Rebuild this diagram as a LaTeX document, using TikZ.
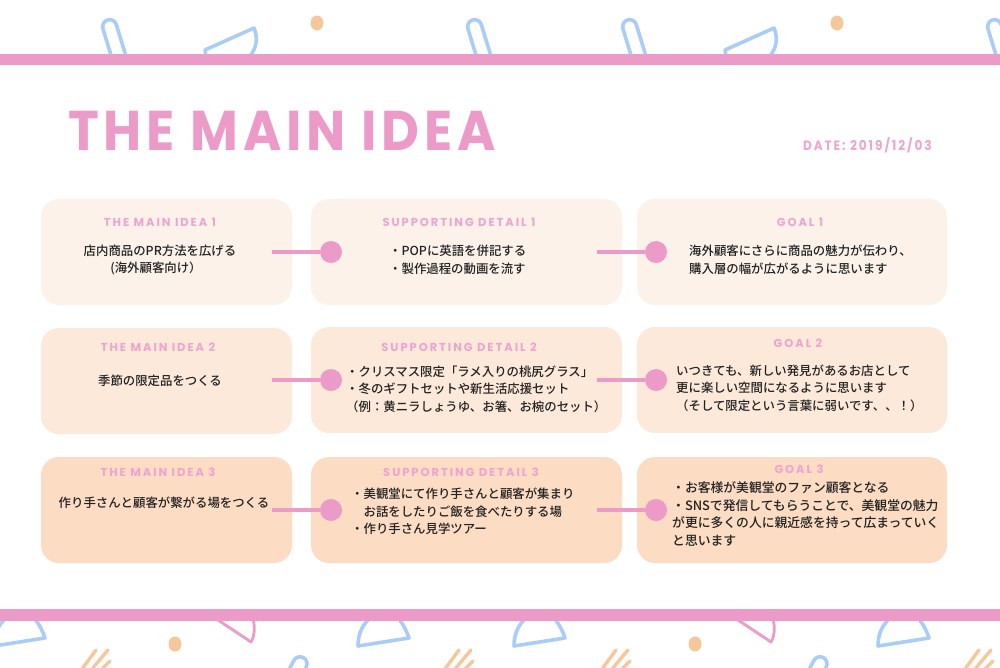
\documentclass[tikz,border=0pt]{standalone}
\usepackage{fontspec}
\setmainfont{Noto Sans CJK JP Medium}
\newfontfamily\titlefont{Poppins}[LetterSpace=8.5,FakeStretch=0.93]
\newfontfamily\headfont{Poppins}[LetterSpace=17]
\newfontfamily\datefont{Poppins}[LetterSpace=14,FakeStretch=0.9]
\definecolor{barpink}{HTML}{EC9BC9}
\definecolor{headpink}{HTML}{ECA5D0}
\definecolor{skyline}{HTML}{A9CDF7}
\definecolor{sandline}{HTML}{F6C79B}
\definecolor{cardone}{HTML}{FDF2E9}
\definecolor{cardtwo}{HTML}{FCE9D9}
\definecolor{cardthree}{HTML}{FCDCC3}
\definecolor{inktext}{HTML}{222222}
\tikzset{
	card/.style={rounded corners=18pt, minimum width=#1, minimum height=106pt, inner sep=0pt},
	head/.style={inner sep=0pt, text=headpink, font=\headfont\bfseries\fontsize{11.5}{14}\selectfont},
	body/.style={inner sep=0pt, text=inktext, font=\fontsize{12.4}{17.6}\selectfont},
	joint/.style={circle, fill=barpink, minimum size=22pt, inner sep=0pt},
	link/.style={draw=barpink, line width=4pt},
	skyshape/.style={draw=skyline, line width=3.6pt, line join=round},
	pill/.style={skyshape, rounded corners=7pt, minimum width=14pt, minimum height=44pt, inner sep=0pt},
	speck/.style={ellipse, fill=sandline, minimum width=13pt, minimum height=15pt, inner sep=0pt},
	stripe/.style={draw=sandline, line width=3.4pt, line cap=round}
}
\usetikzlibrary{shapes.geometric}
\begin{document}
\begin{tikzpicture}[x=1pt, y=-1pt]
	\useasboundingbox (0, 0) rectangle (1000, 667);

	% top pattern
	\foreach \p/\i in {114/1, 479/2, 634/3, 999/4}
		\node[pill, rotate=17] (toppill\i) at (\p, 41) {};
	\foreach \s in {0, 520} {
		\draw[skyshape] (206+\s, 56) -- (205+\s, 50) -- (254+\s, 28) .. controls (258+\s, 38) and (257+\s, 47) .. (250+\s, 56);
	}
	\node[speck] (topdot1) at (317, 23) {};
	\node[speck] (topdot2) at (837, 23) {};

	% bottom pattern
	\foreach \s in {-7, 357, 513, 877} {
		\draw[skyshape] (\s+13, 618) .. controls (\s+4, 626) and (\s+1, 636) .. (\s+1, 646) -- (\s+52, 638) .. controls (\s+50, 632) and (\s+47, 625) .. (\s+41, 618);
	}
	\foreach \s in {0, 520} {
		\draw[draw=barpink, line width=2.8pt, line join=round] (215+\s, 618) -- (251+\s, 642) .. controls (255+\s, 635) and (255+\s, 628) .. (253+\s, 618);
	}
	\node[speck] (botdot1) at (175, 644) {};
	\node[speck] (botdot2) at (695, 644) {};
	\foreach \s in {0, 363, 520, 883} {
		\draw[stripe] (96+\s, 650) -- (82+\s, 669);
		\draw[stripe] (108+\s, 650) -- (92+\s, 669);
		\draw[stripe] (110+\s, 661) -- (102+\s, 669);
	}
	\node[pill, rotate=-28] (botpill1) at (293, 677) {};
	\node[pill, rotate=-28] (botpill2) at (813, 677) {};

	% bars
	\fill[barpink] (0, 54) rectangle (1000, 65);
	\fill[barpink] (0, 609) rectangle (1000, 621);

	% title
	\node[inner sep=0pt, anchor=west, text=barpink, font=\titlefont\bfseries\fontsize{56}{60}\selectfont] (title) at (68, 131) {THE MAIN IDEA};
	\node[inner sep=0pt, anchor=east, text=headpink, font=\datefont\bfseries\fontsize{13.5}{16}\selectfont] (date) at (932, 145) {DATE: 2019/12/03};

	% cards
	\node[card=251pt, fill=cardone] (idea1) at (166.5, 252) {};
	\node[card=311pt, fill=cardone] (detail1) at (466.5, 252) {};
	\node[card=310pt, fill=cardone] (goal1) at (792, 252) {};
	\node[card=251pt, fill=cardtwo] (idea2) at (166.5, 381) {};
	\node[card=311pt, fill=cardtwo] (detail2) at (466.5, 380) {};
	\node[card=310pt, fill=cardtwo] (goal2) at (792, 380) {};
	\node[card=251pt, fill=cardthree] (idea3) at (166.5, 510) {};
	\node[card=311pt, fill=cardthree] (detail3) at (466.5, 510) {};
	\node[card=310pt, fill=cardthree] (goal3) at (792, 510) {};

	% headings
	\node[head] (ideahead1) at (160, 222) {THE MAIN IDEA 1};
	\node[head] (detailhead1) at (459, 222) {SUPPORTING DETAIL 1};
	\node[head] (goalhead1) at (800, 222) {GOAL 1};
	\node[head] (ideahead2) at (158, 347.5) {THE MAIN IDEA 2};
	\node[head] (detailhead2) at (459, 347.5) {SUPPORTING DETAIL 2};
	\node[head] (goalhead2) at (798, 343.5) {GOAL 2};
	\node[head] (ideahead3) at (158, 472) {THE MAIN IDEA 3};
	\node[head] (detailhead3) at (461, 472) {SUPPORTING DETAIL 3};
	\node[head] (goalhead3) at (799, 469) {GOAL 3};

	% texts
	\node[body, align=center] (ideatext1) at (160, 260) {店内商品のPR方法を広げる\\\hspace*{-8pt}(海外顧客向け）};
	\node[body, anchor=west, align=left] (detailtext1) at (389, 260) {・POPに英語を併記する\\・製作過程の動画を流す};
	\node[body, anchor=west, align=left] (goaltext1) at (689, 260) {海外顧客にさらに商品の魅力が伝わり、\\購入層の幅が広がるように思います};
	\node[body] (ideatext2) at (160, 380.5) {季節の限定品をつくる};
	\node[body, anchor=west, align=left] (detailtext2) at (346, 389) {・クリスマス限定「ラメ入りの桃尻グラス」\\・冬のギフトセットや新生活応援セット\\（例：黄ニラしょうゆ、お箸、お椀のセット）};
	\node[body, anchor=west, align=left] (goaltext2) at (676, 388) {いつきても、新しい発見があるお店として\\更に楽しい空間になるように思います\\（そして限定という言葉に弱いです、、！）};
	\node[body] (ideatext3) at (164, 503) {作り手さんと顧客が繋がる場をつくる};
	\node[body, anchor=west, align=left] (detailtext3) at (351, 511.5) {・美観堂にて作り手さんと顧客が集まり\\　お話をしたりご飯を食べたりする場\\・作り手さん見学ツアー};
	\node[body, anchor=west, align=left, font=\fontsize{12.8}{17.8}\selectfont] (goaltext3) at (672, 514) {・お客様が美観堂のファン顧客となる\\・SNSで発信してもらうことで、美観堂の魅力\\が更に多くの人に親近感を持って広まっていく\\と思います};

	% connectors
	\coordinate (startA1) at (272, 252);
	\coordinate (startB1) at (597, 252);
	\coordinate (startA2) at (272, 380);
	\coordinate (startB2) at (597, 380);
	\coordinate (startA3) at (272, 510);
	\coordinate (startB3) at (597, 510);
	\node[joint] (jointA1) at (331, 252) {};
	\node[joint] (jointB1) at (656, 252) {};
	\node[joint] (jointA2) at (331, 380) {};
	\node[joint] (jointB2) at (656, 380) {};
	\node[joint] (jointA3) at (331, 510) {};
	\node[joint] (jointB3) at (656, 510) {};
	\draw[link] (startA1) -- (jointA1);
	\draw[link] (startB1) -- (jointB1);
	\draw[link] (startA2) -- (jointA2);
	\draw[link] (startB2) -- (jointB2);
	\draw[link] (startA3) -- (jointA3);
	\draw[link] (startB3) -- (jointB3);
\end{tikzpicture}
\end{document}
